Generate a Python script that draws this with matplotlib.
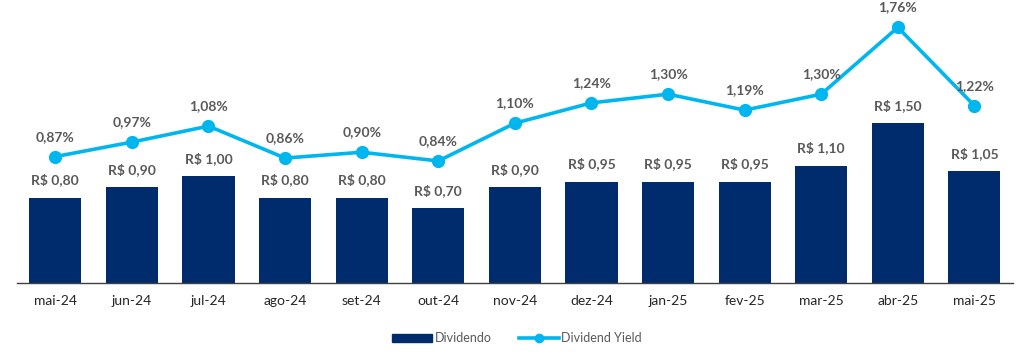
import matplotlib.pyplot as plt
from matplotlib.lines import Line2D
from matplotlib.patches import Patch

meses = ["mai-24", "jun-24", "jul-24", "ago-24", "set-24", "out-24", "nov-24",
         "dez-24", "jan-25", "fev-25", "mar-25", "abr-25", "mai-25"]
dividendo = [0.80, 0.90, 1.00, 0.80, 0.80, 0.70, 0.90, 0.95, 0.95, 0.95, 1.10, 1.50, 1.05]
dy = [0.87, 0.97, 1.08, 0.86, 0.90, 0.84, 1.10, 1.24, 1.30, 1.19, 1.30, 1.76, 1.22]

azul_escuro = "#002C6E"
azul_claro = "#00B6EF"
cinza = "#595959"

plt.rcParams['font.family'] = ['Lato', 'DejaVu Sans']

fig = plt.figure(figsize=(10.24, 3.55), dpi=100)
ax = fig.add_axes([0.0166, 0.203, 0.9724, 0.769])
x = list(range(len(meses)))

ax.bar(x, dividendo, width=0.68, color=azul_escuro, zorder=2)
ax.set_ylim(0, 2.56)
ax.set_xlim(-0.5, len(meses) - 0.5)
for i, v in enumerate(dividendo):
    ax.annotate(f"R$ {v:.2f}".replace(".", ","), (i, v), xytext=(0, 8),
                textcoords="offset points", ha="center", va="bottom",
                fontsize=10, fontweight="bold", color=cinza)

ax2 = ax.twinx()
ax2.plot(x, dy, color=azul_claro, lw=2.6, marker="o", markersize=8.5, zorder=3)
ax2.set_ylim(0, 1.88)
for i, v in enumerate(dy):
    ax2.annotate(f"{v:.2f}%".replace(".", ","), (i, v), xytext=(0, 10),
                 textcoords="offset points", ha="center", va="bottom",
                 fontsize=10, fontweight="bold", color=cinza)

for a in (ax, ax2):
    for s in ("top", "left", "right"):
        a.spines[s].set_visible(False)
    a.set_yticks([])
ax2.spines["bottom"].set_visible(False)
ax.spines["bottom"].set_color("#404040")
ax.spines["bottom"].set_linewidth(1.0)

ax.set_xticks(x)
ax.set_xticklabels(meses, fontsize=10, color="#262626")
ax.tick_params(axis="x", length=0, pad=9)

handles = [Patch(color=azul_escuro),
           Line2D([], [], color=azul_claro, lw=2.6, marker="o", markersize=6)]
fig.legend(handles, ["Dividendo", "Dividend Yield"], loc="center",
           bbox_to_anchor=(0.505, 0.047), ncol=2, frameon=False, fontsize=9,
           handlelength=3.2, handletextpad=0.2, columnspacing=2.2,
           labelcolor=cinza)

fig.savefig("out.png", dpi=100)
